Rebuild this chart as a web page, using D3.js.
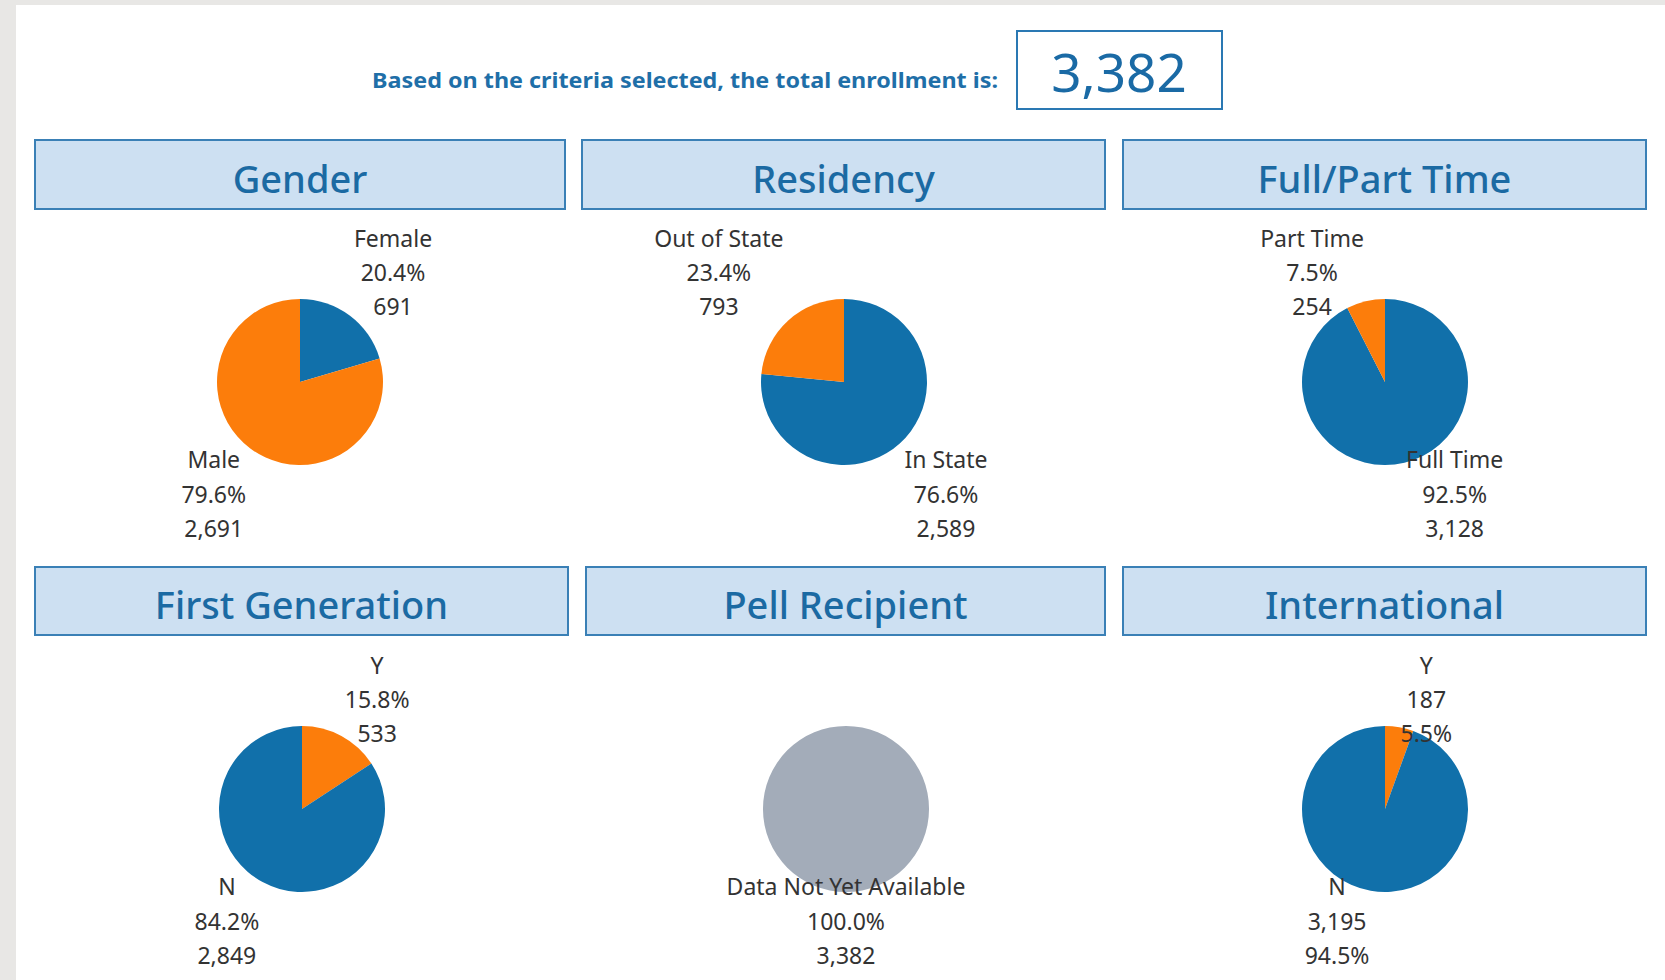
<!DOCTYPE html>
<html>
<head>
<meta charset="utf-8">
<script src="https://cdn.jsdelivr.net/npm/d3@7"></script>
<style>
  body { margin: 0; background: #e8e7e5; }
  svg { display: block; }
</style>
</head>
<body>
<svg id="chart"></svg>
<script>
const totalEnrollment = 3382;
const panelTitles = ['Gender', 'Residency', 'Full/Part Time', 'First Generation', 'Pell Recipient', 'International'];
const genderCats = ['Female', 'Male'];
const genderVals = [691, 2691];
const residencyCats = ['In State', 'Out of State'];
const residencyVals = [2589, 793];
const timeCats = ['Full Time', 'Part Time'];
const timeVals = [3128, 254];
const firstGenCats = ['Y', 'N'];
const firstGenVals = [533, 2849];
const pellCats = ['Data Not Yet Available'];
const pellVals = [3382];
const intlCats = ['Y', 'N'];
const intlVals = [187, 3195];

const width = 1665;
const height = 980;
const blue = '#1170aa';
const orange = '#fc7d0b';
const gray = '#a3acb9';
const titleBlue = '#1b6aa3';

const svg = d3.select('#chart')
    .attr('width', width)
    .attr('height', height);

// white dashboard panel
svg.append('rect')
    .attr('x', 16).attr('y', 5)
    .attr('width', width - 16).attr('height', height - 5)
    .attr('fill', '#ffffff');

// headline
svg.append('text')
    .attr('x', 998).attr('y', 80)
    .attr('text-anchor', 'end')
    .attr('dominant-baseline', 'central')
    .attr('textLength', 626)
    .attr('lengthAdjust', 'spacingAndGlyphs')
    .style('font-family', 'Noto Sans')
    .style('font-weight', 'bold')
    .style('font-size', '21px')
    .style('fill', '#1f6fa8')
    .text('Based on the criteria selected, the total enrollment is:');

svg.append('rect')
    .attr('x', 1017).attr('y', 31)
    .attr('width', 205).attr('height', 78)
    .attr('fill', 'white')
    .attr('stroke', '#2a78b3')
    .attr('stroke-width', 2);

svg.append('text')
    .attr('x', 1119).attr('y', 71)
    .attr('text-anchor', 'middle')
    .attr('dominant-baseline', 'central')
    .style('font-family', 'Noto Sans')
    .style('font-size', '53px')
    .style('fill', '#1a6aa5')
    .text(d3.format(',')(totalEnrollment));

// panel layout: header boxes and pie centres
const panels = [
    {cats: genderCats, vals: genderVals, colors: [blue, orange], box: [35, 140, 530, 69], c: [300, 382]},
    {cats: residencyCats, vals: residencyVals, colors: [blue, orange], box: [582, 140, 523, 69], c: [844, 382]},
    {cats: timeCats, vals: timeVals, colors: [blue, orange], box: [1123, 140, 523, 69], c: [1385, 382]},
    {cats: firstGenCats, vals: firstGenVals, colors: [orange, blue], box: [35, 567, 533, 68], c: [302, 809]},
    {cats: pellCats, vals: pellVals, colors: [gray], box: [586, 567, 519, 68], c: [846, 809]},
    {cats: intlCats, vals: intlVals, colors: [orange, blue], box: [1123, 567, 523, 68], c: [1385, 809], countFirst: true}
];

const radius = 83;
const pie = d3.pie().value(d => d.value).sort(null);
const arc = d3.arc().innerRadius(0).outerRadius(radius);
const pct = d3.format('.1%');
const num = d3.format(',');

panels.forEach((p, i) => {
    const [bx, by, bw, bh] = p.box;
    svg.append('rect')
        .attr('x', bx).attr('y', by)
        .attr('width', bw).attr('height', bh)
        .attr('fill', '#cde0f2')
        .attr('stroke', '#3a80b6')
        .attr('stroke-width', 2);

    svg.append('text')
        .attr('x', bx + bw / 2).attr('y', by + bh / 2 + 3)
        .attr('text-anchor', 'middle')
        .attr('dominant-baseline', 'central')
        .style('font-family', 'Noto Sans')
        .style('font-weight', 500)
        .style('font-size', '38px')
        .style('fill', titleBlue)
        .text(panelTitles[i]);

    const data = p.cats.map((c, j) => ({cat: c, value: p.vals[j]}));
    const total = d3.sum(data, d => d.value);

    const g = svg.append('g')
        .attr('transform', `translate(${p.c[0]},${p.c[1]})`);

    const arcs = pie(data);

    g.selectAll('path')
        .data(arcs)
        .enter()
        .append('path')
        .attr('d', arc)
        .attr('fill', (d, j) => p.colors[j]);

    // labels: block edge sits off the slice's mid angle, above or below the pie
    arcs.forEach(d => {
        const mid = (d.startAngle + d.endAngle) / 2;
        const s = Math.sin(mid);
        const top = Math.cos(mid) > 0;
        const share = pct(d.data.value / total);
        const count = num(d.data.value);
        const lines = p.countFirst ? [d.data.cat, count, share] : [d.data.cat, share, count];
        const offsets = top ? [-144, -110, -76] : [77, 112, 146];

        const lg = g.append('g');
        const texts = lg.selectAll('text')
            .data(lines)
            .enter()
            .append('text')
            .attr('y', (t, k) => offsets[k])
            .attr('text-anchor', 'middle')
            .attr('dominant-baseline', 'central')
            .style('font-family', 'Noto Sans')
            .style('font-size', '23px')
            .style('fill', '#333333')
            .text(t => t);

        const w = d3.max(texts.nodes(), n => n.getComputedTextLength());
        let x = 90 * s;
        if (Math.abs(s) > 0.01) x += Math.sign(s) * w / 2;
        texts.attr('x', x);
    });
});
</script>
</body>
</html>
